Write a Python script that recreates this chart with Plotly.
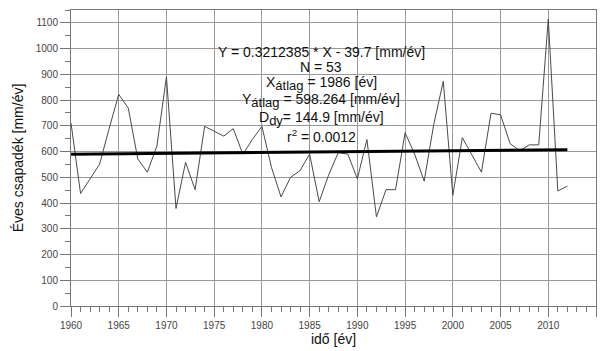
import plotly.graph_objects as go

years = list(range(1960, 2013))
precip = [711, 437, 494, 551, 690, 822, 769, 571, 520, 622,
          890, 379, 558, 452, 698, 680, 660, 689, 590, 647,
          698, 539, 424, 500, 526, 590, 405, 510, 596, 590,
          494, 647, 346, 452, 452, 673, 590, 485, 705, 873,
          430, 654, 585, 520, 749, 743, 631, 603, 626, 626,
          1115, 447, 466]

slope = 0.3212385
intercept = -39.7
trend_x = [years[0], years[-1]]
trend_y = [slope * x + intercept for x in trend_x]

sub = '<sub><span style="font-size:13px">{}</span></sub>'
stats_lines = [
    "Y = 0.3212385 * X - 39.7 [mm/év]",
    "N = 53",
    "X" + sub.format("átlag") + " = 1986 [év]",
    "Y" + sub.format("átlag") + " = 598.264 [mm/év]",
    "D" + sub.format("dy") + "= 144.9 [mm/év]",
    "r<sup>2</sup> = 0.0012",
]
stats_px_y = [53, 68, 85, 102, 120, 138]

fig = go.Figure()
fig.add_trace(go.Scatter(x=years, y=precip, mode="lines",
                         line=dict(color="#4a4a4a", width=1), showlegend=False))
fig.add_trace(go.Scatter(x=trend_x, y=trend_y, mode="lines",
                         line=dict(color="#000000", width=3), showlegend=False))

font_family = "Liberation Sans, Arial, sans-serif"
for txt, py in zip(stats_lines, stats_px_y):
    fig.add_annotation(x=1986.2, y=(311 - py) / 301, xref="x", yref="paper",
                       text=txt, showarrow=False, xanchor="center", yanchor="middle",
                       align="center", font=dict(family=font_family, size=14, color="#111111"))

fig.update_layout(
    width=603, height=351,
    margin=dict(l=71, r=6, t=10, b=40),
    paper_bgcolor="white", plot_bgcolor="white",
    font=dict(family=font_family),
)
fig.update_xaxes(
    range=[1960, 2015], dtick=5, tick0=1960,
    showgrid=True, gridcolor="#999999", gridwidth=1,
    showline=True, linecolor="#777777", linewidth=1, mirror=True,
    ticks="outside", ticklen=10, tickcolor="#777777",
    minor=dict(dtick=1, ticklen=5, ticks="outside", tickcolor="#777777", showgrid=False),
    tickfont=dict(size=10, color="#444444"),
    title=dict(text="idő [év]", font=dict(size=14, color="#111111"), standoff=4),
    zeroline=False,
)
fig.update_yaxes(
    range=[0, 1150], dtick=100, tick0=0,
    showgrid=True, gridcolor="#999999", gridwidth=1,
    showline=True, linecolor="#777777", linewidth=1, mirror=True,
    ticks="outside", ticklen=10, tickcolor="#777777",
    minor=dict(dtick=50, ticklen=5, ticks="outside", tickcolor="#777777", showgrid=False),
    tickfont=dict(size=10, color="#444444"),
    title=dict(text="Éves csapadék [mm/év]", font=dict(size=14, color="#111111"), standoff=8),
    zeroline=False,
)

fig.write_html("out.html")
